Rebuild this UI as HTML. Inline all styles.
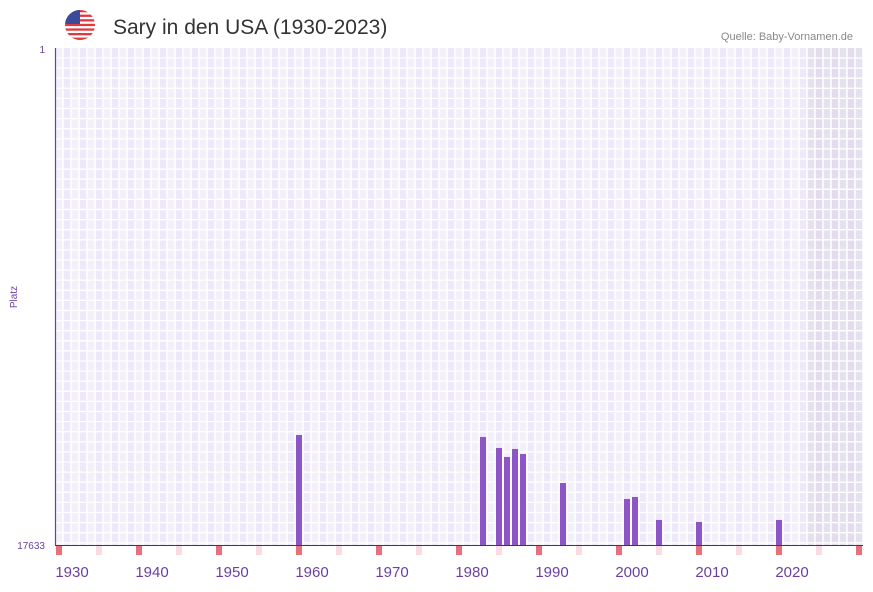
<!DOCTYPE html>
<html><head><meta charset="utf-8"><style>
body{margin:0;background:#fff;font-family:"Liberation Sans",sans-serif;}
</style></head><body>
<svg width="873" height="587" xmlns="http://www.w3.org/2000/svg">
<g>
<clipPath id="fc"><circle cx="80" cy="25" r="15"/></clipPath>
<g clip-path="url(#fc)">
<rect x="65" y="10" width="30" height="30" fill="#fff"/>
<rect x="65" y="10" width="30" height="2.3" fill="#e0393e"/><rect x="65" y="14.6" width="30" height="2.3" fill="#e0393e"/><rect x="65" y="19.2" width="30" height="2.3" fill="#e0393e"/><rect x="65" y="23.8" width="30" height="2.3" fill="#e0393e"/><rect x="65" y="28.4" width="30" height="2.3" fill="#e0393e"/><rect x="65" y="33" width="30" height="2.3" fill="#e0393e"/><rect x="65" y="37.6" width="30" height="2.4" fill="#e0393e"/>
<rect x="65" y="10" width="15" height="14" fill="#3c4a9a"/>
</g></g>
<text x="113" y="34" font-size="21" fill="#333">Sary in den USA (1930-2023)</text>
<text x="853" y="40" font-size="11" fill="#888" text-anchor="end">Quelle: Baby-Vornamen.de</text>
<g id="grid"></g>
<g id="bars"></g>
<g id="markers"></g>
<line x1="55.5" y1="48" x2="55.5" y2="545" stroke="#6a3fa0" stroke-width="1.2"/>
<line x1="55" y1="545.5" x2="863" y2="545.5" stroke="#4a2a70" stroke-width="1"/>
<text x="45" y="53" font-size="10" fill="#6a3fa0" text-anchor="end">1</text>
<text x="45" y="549" font-size="10" fill="#6a3fa0" text-anchor="end">17633</text>
<text x="17" y="297" font-size="10" fill="#6a3fa0" text-anchor="middle" transform="rotate(-90 17 297)">Platz</text>
<g id="xlabels"></g>
</svg>
<script>
const years=[1958,1981,1983,1984,1985,1986,1991,1999,2000,2003,2008,2018];
const ranks=[13730,13801,14191,14510,14226,14404,15433,16000,15929,16745,16816,16745];
const xTicks=[1930,1940,1950,1960,1970,1980,1990,2000,2010,2020];
const yMin=1,yMax=17633,firstYear=1928,lastYear=2028;
const L=55,R=863,T=48,B=545,slot=(R-L)/(lastYear-firstYear+1);
const NS="http://www.w3.org/2000/svg";
function x(y){return L+(y-firstYear)*slot;}
function yPos(r){return T+(r-yMin)/(yMax-yMin)*(B-T);}
function mk(t,a,p){const e=document.createElementNS(NS,t);for(const k in a)e.setAttribute(k,a[k]);p.appendChild(e);return e;}
const g=document.getElementById('grid');
for(let yr=firstYear;yr<=lastYear;yr++){
  const shaded=yr>=2022;
  const c=mk('rect',{x:x(yr),y:T,width:slot,height:B-T,fill:shaded?(yr%2?'#e2dcee':'#e6e1f0'):(yr%2?'#eee9fa':'#f3f0fc')},g);
  
  
}
for(let yr=firstYear;yr<=lastYear+1;yr++){mk('line',{x1:x(yr),y1:T,x2:x(yr),y2:B,stroke:'#fff','stroke-width':1.5},g);}
for(let yy=T+10;yy<B;yy+=10.1){mk('line',{x1:L,y1:yy,x2:R,y2:yy,stroke:'#fff','stroke-width':1.3},g);}
const bg=document.getElementById('bars');
years.forEach((yr,i)=>{
  const top=yPos(ranks[i]);
  const b=mk('rect',{x:x(yr)+1,y:top,width:slot-2,height:B-top,fill:'#8e55c8'},bg);
  
  
});
const m=document.getElementById('markers');
for(let yr=firstYear;yr<=lastYear;yr++){
  let f=yr%10===8?'#e8707a':(yr%10===3?'#f8dbe3':null);
  if(!f) continue;
  const r=mk('rect',{x:x(yr)+1,y:B+1,width:slot-2,height:9,fill:f},m);
  
  
}
const xl=document.getElementById('xlabels');
xTicks.forEach(t=>{
  const e=mk('text',{x:x(t)+slot/2-3,y:577,'font-size':15,fill:'#6a3fa0','text-anchor':'middle'},xl);
  e.textContent=t;
  
  
});
</script>
</body></html>
